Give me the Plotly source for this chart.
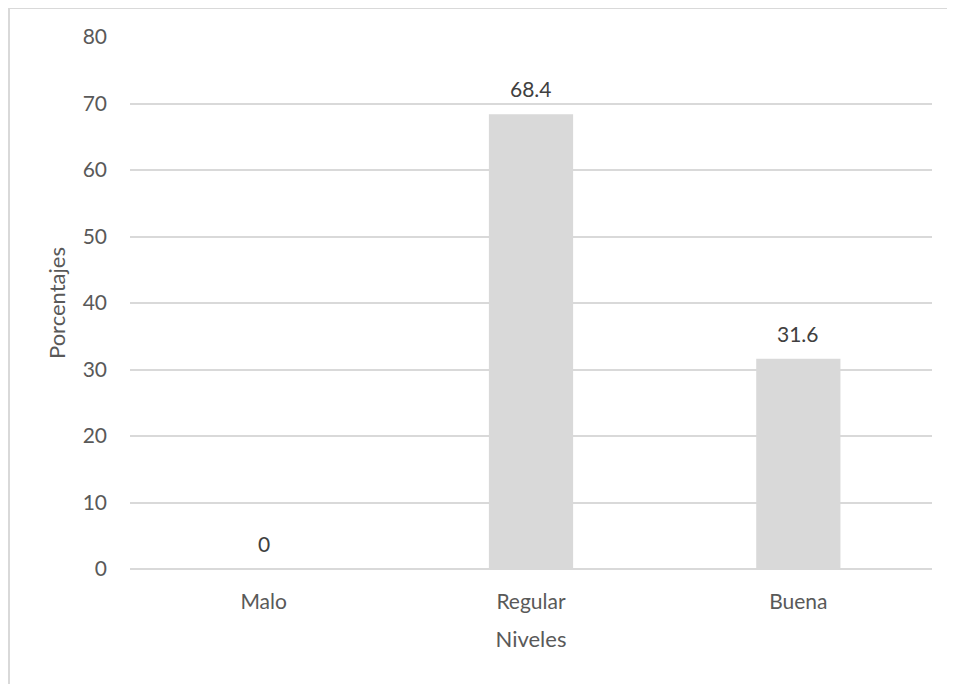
import plotly.graph_objects as go

categories = ["Malo", "Regular", "Buena"]
values = [0, 68.4, 31.6]
labels = ["0", "68.4", "31.6"]
y_ticks = [0, 10, 20, 30, 40, 50, 60, 70, 80]

font_family = "Lato, Open Sans, Liberation Sans, sans-serif"

fig = go.Figure()
fig.add_trace(go.Bar(
    x=categories, y=values,
    marker=dict(color="#d9d9d9", line=dict(width=0)),
    hoverinfo="x+y",
))

for c, v, t in zip(categories, values, labels):
    fig.add_annotation(
        x=c, y=v, text=t, showarrow=False,
        yanchor="bottom", yshift=11,
        font=dict(size=21, color="#404040", family=font_family),
    )

fig.update_layout(
    width=955, height=684,
    margin=dict(l=122, r=31, t=29, b=123),
    paper_bgcolor="white", plot_bgcolor="white",
    bargap=0.685,
    showlegend=False,
    font=dict(family=font_family, color="#595959", size=21),
    xaxis=dict(
        title=dict(text="Niveles", font=dict(size=22, color="#595959"), standoff=19),
        showgrid=False, showline=False, ticks="",
        tickfont=dict(size=21, color="#595959"),
        ticklabelstandoff=18,
    ),
    yaxis=dict(
        title=dict(text="Porcentajes", font=dict(size=22, color="#595959"), standoff=10),
        range=[0, 80], tickvals=y_ticks,
        showgrid=True, gridcolor="#d9d9d9", gridwidth=1.5,
        zeroline=True, zerolinecolor="#d9d9d9", zerolinewidth=1.5,
        showline=False, ticks="",
        tickfont=dict(size=21, color="#595959"),
        ticklabelstandoff=22,
    ),
    shapes=[
        dict(type="line", xref="paper", yref="paper",
             x0=-0.1509, x1=1.1, y0=1.0545, y1=1.0545,
             line=dict(color="#d9d9d9", width=2)),
        dict(type="line", xref="paper", yref="paper",
             x0=-0.1509, x1=-0.1509, y0=1.0545, y1=-0.3,
             line=dict(color="#d9d9d9", width=2)),
    ],
)

fig.write_html("out.html")
